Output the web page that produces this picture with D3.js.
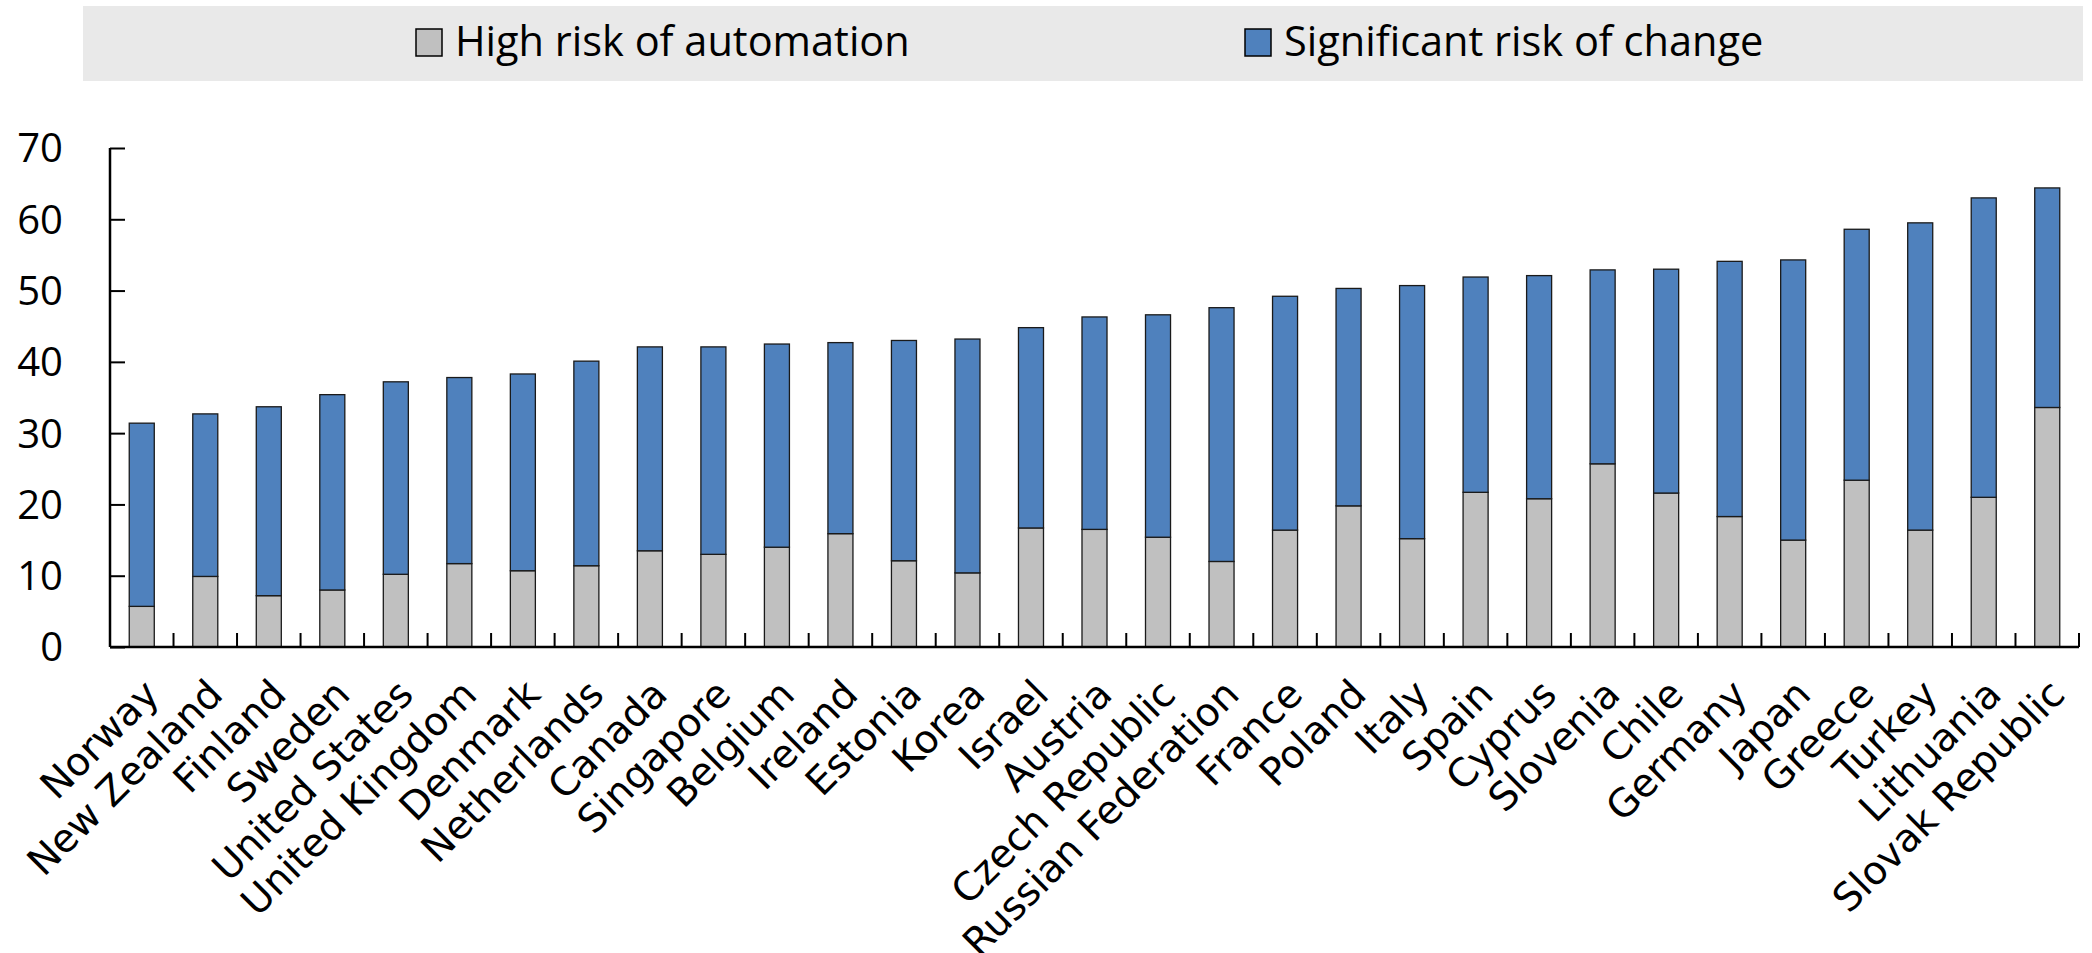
<!DOCTYPE html>
<html>
<head>
<meta charset="utf-8">
<script src="https://cdn.jsdelivr.net/npm/d3@7"></script>
<style>
    body { margin: 0; background: #fff; }
    .tick-label { font-family: "Open Sans", sans-serif; font-size: 40px; fill: #000; }
    .legend-label { font-family: "Open Sans", sans-serif; font-size: 41.5px; fill: #000; }
    .country-label { font-family: "DejaVu Sans", sans-serif; font-size: 39px; fill: #000; }
</style>
</head>
<body>
<div id="wrapper"></div>
<script>
// data (% of workers)
const countries = [
    "Norway", "New Zealand", "Finland", "Sweden", "United States", "United Kingdom",
    "Denmark", "Netherlands", "Canada", "Singapore", "Belgium", "Ireland", "Estonia",
    "Korea", "Israel", "Austria", "Czech Republic", "Russian Federation", "France",
    "Poland", "Italy", "Spain", "Cyprus", "Slovenia", "Chile", "Germany", "Japan",
    "Greece", "Turkey", "Lithuania", "Slovak Republic",
];
const highRisk = [
    5.7, 9.9, 7.2, 8.0, 10.2, 11.7, 10.7, 11.4, 13.5, 13.0, 14.0, 15.9, 12.1, 10.4, 16.7, 16.5,
    15.4, 12.0, 16.4, 19.8, 15.2, 21.7, 20.8, 25.7, 21.6, 18.3, 15.0, 23.4, 16.4, 21.0, 33.6,
];
const significantChange = [
    25.7, 22.8, 26.5, 27.4, 27.0, 26.1, 27.6, 28.7, 28.6, 29.1, 28.5, 26.8, 30.9, 32.8, 28.1, 29.8,
    31.2, 35.6, 32.8, 30.5, 35.5, 30.2, 31.3, 27.2, 31.4, 35.8, 39.3, 35.2, 43.1, 42.0, 30.8,
];
const seriesNames = ["High risk of automation", "Significant risk of change"];
const seriesColors = ["#C0C0C0", "#4F81BD"];
const yTicks = [0, 10, 20, 30, 40, 50, 60, 70];

function drawChart() {

    // 1. Build rows
    const keys = ["high", "change"];
    const dataset = countries.map((c, i) => ({
        country: c,
        high: highRisk[i],
        change: significantChange[i],
    }));

    // 2. Chart dimensions
    let dimensions = {
        width: 2092,
        height: 953,
        margin: {
            top: 148,
            right: 13,
            bottom: 306,
            left: 110,
        },
    }
    dimensions.boundedWidth = dimensions.width - dimensions.margin.left - dimensions.margin.right
    dimensions.boundedHeight = dimensions.height - dimensions.margin.top - dimensions.margin.bottom

    // 3. Draw canvas
    const wrapper = d3.select("#wrapper")
        .append("svg")
        .attr("width", dimensions.width)
        .attr("height", dimensions.height)

    // legend band
    const legend = wrapper.append("g")
    legend.append("rect")
        .attr("x", 83)
        .attr("y", 6)
        .attr("width", 2000)
        .attr("height", 75)
        .attr("fill", "#E9E9E9")

    const legendX = [416, 1245];
    seriesNames.forEach((name, i) => {
        legend.append("rect")
            .attr("x", legendX[i])
            .attr("y", 29)
            .attr("width", 26)
            .attr("height", 27)
            .attr("fill", seriesColors[i])
            .attr("stroke", "#000")
            .attr("stroke-width", 1.5)
        legend.append("text")
            .attr("class", "legend-label")
            .attr("x", legendX[i] + 39)
            .attr("y", 56)
            .text(name)
    });

    const bounds = wrapper.append("g")
        .attr("transform", `translate(${dimensions.margin.left}, ${dimensions.margin.top})`)

    // 4. Scales
    const xScale = d3.scaleBand()
        .domain(countries)
        .range([0, dimensions.boundedWidth])
        .paddingInner(0.606)
        .paddingOuter(0.303)

    const yScale = d3.scaleLinear()
        .domain([0, 70])
        .range([dimensions.boundedHeight, 0])

    // 5. Draw data
    const stacked = d3.stack().keys(keys)(dataset);

    bounds.selectAll(".series")
        .data(stacked)
        .join("g")
        .attr("class", "series")
        .attr("fill", (d, i) => seriesColors[i])
        .selectAll("rect")
        .data(d => d)
        .join("rect")
        .attr("x", d => xScale(d.data.country))
        .attr("y", d => yScale(d[1]))
        .attr("width", xScale.bandwidth())
        .attr("height", d => yScale(d[0]) - yScale(d[1]))
        .attr("stroke", "#1a1a1a")
        .attr("stroke-width", 1.3)

    // 6. Peripherals
    const yAxis = d3.axisRight(yScale)
        .tickValues(yTicks)
        .tickSize(15)
        .tickFormat("")
    const yAxisGroup = bounds.append("g").call(yAxis)
    yAxisGroup.select(".domain").remove()
    yAxisGroup.selectAll(".tick line").attr("stroke", "#000").attr("stroke-width", 2)

    bounds.append("line")
        .attr("x1", 0).attr("x2", 0)
        .attr("y1", yScale(70)).attr("y2", yScale(0))
        .attr("stroke", "#000").attr("stroke-width", 2.5)

    bounds.selectAll(".y-label")
        .data(yTicks)
        .join("text")
        .attr("class", "tick-label")
        .attr("x", -47)
        .attr("y", d => yScale(d))
        .attr("dy", "0.36em")
        .attr("text-anchor", "end")
        .text(d => d)

    // category boundary ticks
    const step = xScale.step();
    bounds.selectAll(".x-tick")
        .data(d3.range(1, countries.length + 1))
        .join("line")
        .attr("x1", i => i * step).attr("x2", i => i * step)
        .attr("y1", yScale(0)).attr("y2", yScale(0) - 14)
        .attr("stroke", "#000").attr("stroke-width", 2)

    bounds.append("line")
        .attr("x1", 0).attr("x2", countries.length * step)
        .attr("y1", yScale(0)).attr("y2", yScale(0))
        .attr("stroke", "#000").attr("stroke-width", 2.5)

    bounds.selectAll(".country-label")
        .data(countries)
        .join("text")
        .attr("class", "country-label")
        .attr("transform", d => `translate(${xScale(d) + xScale.bandwidth() / 2}, ${yScale(0) + 30}) rotate(-45)`)
        .attr("text-anchor", "end")
        .attr("dy", "0.71em")
        .text(d => d)
}

drawChart();
</script>
</body>
</html>
